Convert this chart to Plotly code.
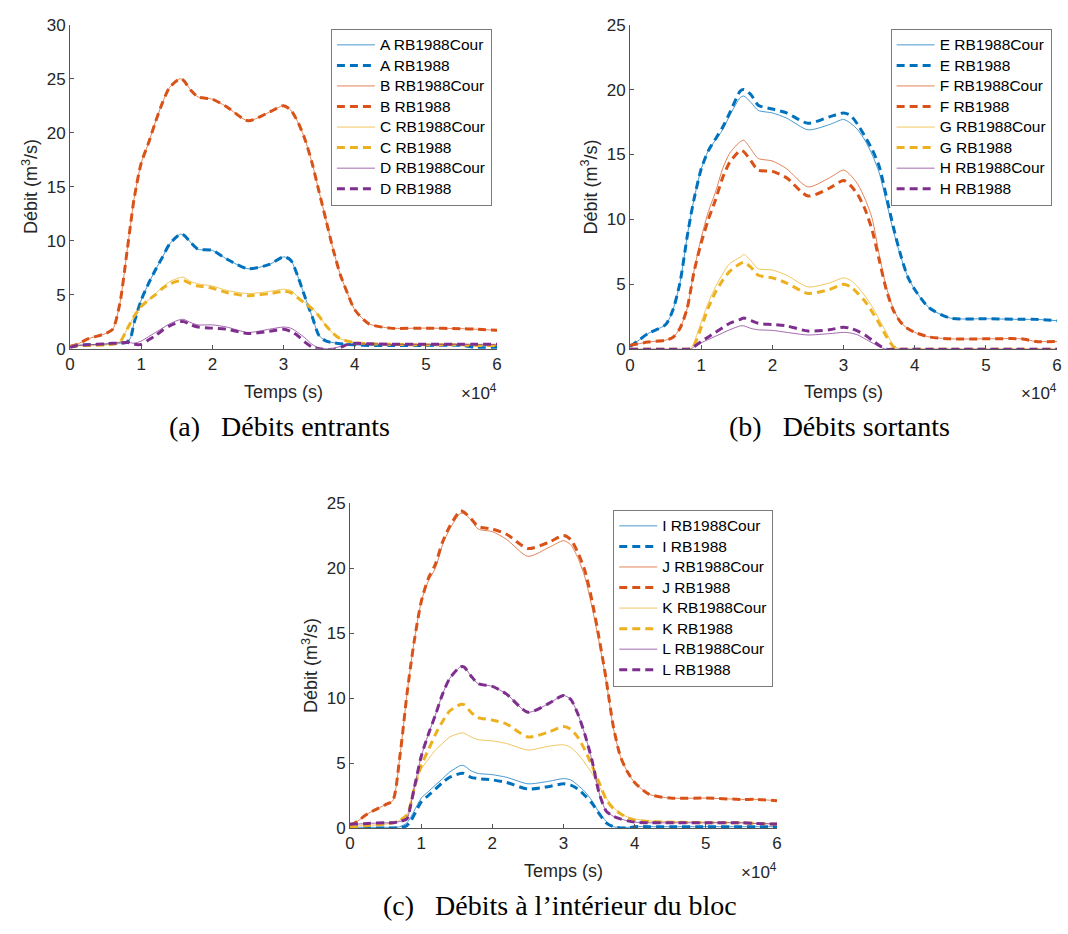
import plotly.graph_objects as go

# ---------------- data ----------------
T = [0, 1000, 2500, 5000, 6000, 7000, 8000, 8500, 9000, 10000, 11000, 12000, 13000, 14000,
     15500, 16000, 17000, 18000, 20000, 22000, 25000, 28000, 30000, 31000, 32000, 33000,
     34000, 35000, 36000, 37000, 38000, 39000, 40000, 42000, 45000, 50000, 55000, 57000, 60000]

# (a) Débits entrants
A_cour = [0.3, 0.3, 0.35, 0.4, 0.45, 0.5, 0.6, 1.0, 2.4, 4.5, 6.0, 7.3, 8.5, 9.7,
          10.6, 10.5, 9.8, 9.2, 9.1, 8.3, 7.4, 7.8, 8.5, 8.2, 6.7, 4.8,
          3.0, 1.2, 0.7, 0.55, 0.45, 0.4, 0.35, 0.3, 0.3, 0.3, 0.3, 0.3, 0.3]
A_1988 = [0.2, 0.3, 0.35, 0.4, 0.45, 0.5, 0.6, 1.0, 2.4, 4.5, 6.0, 7.3, 8.5, 9.7,
          10.6, 10.5, 9.8, 9.2, 9.1, 8.3, 7.4, 7.8, 8.5, 8.2, 6.7, 4.8,
          3.0, 1.2, 0.7, 0.55, 0.45, 0.4, 0.35, 0.3, 0.3, 0.3, 0.3, 0.1, 0.1]
B_cour = [0.2, 0.4, 0.9, 1.4, 1.8, 4.2, 9.0, 11.5, 13.9, 17.2, 19.0, 21.0, 22.8, 24.2,
          25.0, 24.8, 23.9, 23.3, 23.1, 22.4, 21.1, 21.9, 22.5, 22.1, 21.0, 19.4,
          17.2, 14.5, 11.8, 9.1, 6.8, 5.1, 3.6, 2.3, 1.9, 1.9, 1.85, 1.8, 1.7]
B_1988 = [0.2, 0.4, 0.9, 1.4, 1.8, 4.2, 9.0, 11.5, 13.9, 17.2, 19.0, 21.0, 22.8, 24.2,
          25.0, 24.8, 23.9, 23.3, 23.1, 22.4, 21.1, 21.9, 22.5, 22.1, 21.0, 19.4,
          17.2, 14.5, 11.8, 9.1, 6.8, 5.1, 3.6, 2.3, 1.9, 1.9, 1.85, 1.8, 1.7]
C_cour = [0.2, 0.25, 0.3, 0.35, 0.4, 0.6, 1.8, 2.4, 3.0, 3.9, 4.5, 5.1, 5.7, 6.2,
          6.6, 6.6, 6.2, 6.0, 5.8, 5.4, 5.1, 5.3, 5.5, 5.4, 4.8, 4.3,
          3.8, 3.0, 2.1, 1.4, 0.9, 0.7, 0.55, 0.45, 0.4, 0.35, 0.35, 0.3, 0.3]
C_1988 = [0.2, 0.25, 0.3, 0.35, 0.4, 0.6, 1.8, 2.4, 3.0, 3.9, 4.5, 5.0, 5.6, 6.0,
          6.3, 6.3, 6.0, 5.8, 5.6, 5.2, 4.9, 5.1, 5.3, 5.2, 4.7, 4.2,
          3.7, 3.0, 2.1, 1.4, 0.9, 0.7, 0.55, 0.45, 0.4, 0.35, 0.35, 0.3, 0.3]
D_cour = [0.2, 0.3, 0.35, 0.45, 0.5, 0.6, 0.6, 0.55, 0.5, 0.7, 1.1, 1.5, 1.9, 2.3,
          2.7, 2.7, 2.4, 2.2, 2.2, 2.0, 1.5, 1.8, 2.0, 1.9, 1.5, 1.0,
          0.4, 0.05, 0.0, 0.05, 0.2, 0.35, 0.4, 0.45, 0.4, 0.4, 0.4, 0.4, 0.4]
D_1988 = [0.1, 0.3, 0.35, 0.45, 0.5, 0.5, 0.6, 0.5, 0.4, 0.4, 0.8, 1.2, 1.7, 2.1,
          2.5, 2.5, 2.2, 2.0, 1.9, 1.8, 1.4, 1.6, 1.8, 1.6, 1.2, 0.6,
          0.15, 0.0, -0.1, -0.1, 0.1, 0.4, 0.5, 0.45, 0.4, 0.4, 0.4, 0.4, 0.4]

# (b) Débits sortants
E_cour = [0.2, 0.6, 1.2, 1.9, 3.0, 5.1, 8.6, 10.2, 11.6, 13.9, 15.3, 16.1, 16.9, 18.0,
          19.4, 19.5, 19.0, 18.4, 18.2, 17.8, 16.9, 17.3, 17.7, 17.4, 16.9, 16.1,
          15.0, 13.6, 11.4, 9.1, 7.2, 5.6, 4.6, 3.2, 2.4, 2.35, 2.3, 2.3, 2.2]
E_1988 = [0.2, 0.6, 1.2, 1.9, 3.0, 5.1, 8.6, 10.2, 11.6, 13.9, 15.3, 16.2, 17.1, 18.2,
          19.9, 20.0, 19.6, 18.8, 18.5, 18.2, 17.4, 17.9, 18.2, 18.0, 17.3, 16.4,
          15.4, 14.1, 11.8, 9.4, 7.3, 5.6, 4.6, 3.2, 2.4, 2.35, 2.3, 2.3, 2.2]
F_cour = [0.3, 0.4, 0.55, 0.7, 0.9, 1.6, 3.1, 4.5, 6.1, 8.6, 10.6, 12.1, 13.9, 15.1,
          16.0, 16.1, 15.4, 14.7, 14.5, 13.9, 12.5, 13.2, 13.8, 13.4, 12.7, 11.6,
          10.1, 7.3, 4.8, 3.1, 2.1, 1.6, 1.3, 0.95, 0.8, 0.8, 0.8, 0.6, 0.6]
F_1988 = [0.3, 0.4, 0.55, 0.7, 0.9, 1.6, 3.1, 4.5, 6.0, 8.2, 10.0, 11.5, 13.2, 14.4,
          15.3, 15.2, 14.5, 13.8, 13.7, 13.2, 11.8, 12.4, 13.0, 12.6, 11.9, 10.8,
          9.2, 6.9, 4.6, 3.0, 2.1, 1.6, 1.3, 0.95, 0.8, 0.8, 0.8, 0.6, 0.6]
G_cour = [0.0, 0.0, 0.0, 0.0, 0.0, 0.0, 0.0, 0.05, 0.55, 2.1, 3.6, 4.8, 5.8, 6.6,
          7.1, 7.3, 6.8, 6.2, 6.1, 5.7, 4.8, 5.1, 5.5, 5.3, 4.8, 4.1,
          3.3, 2.3, 1.3, 0.3, 0.0, 0.0, 0.0, 0.0, 0.0, 0.0, 0.0, 0.0, 0.0]
G_1988 = [0.0, 0.0, 0.0, 0.0, 0.0, 0.0, 0.0, 0.05, 0.3, 1.7, 3.2, 4.4, 5.3, 6.0,
          6.6, 6.7, 6.3, 5.7, 5.5, 5.1, 4.3, 4.6, 5.0, 4.8, 4.3, 3.7,
          2.9, 2.0, 1.0, 0.2, 0.0, 0.0, 0.0, 0.0, 0.0, 0.0, 0.0, 0.0, 0.0]
H_cour = [0.0, 0.0, 0.0, 0.0, 0.0, 0.0, 0.0, 0.0, 0.2, 0.5, 0.75, 1.0, 1.25, 1.5,
          1.8, 1.8, 1.6, 1.5, 1.45, 1.3, 1.1, 1.2, 1.3, 1.25, 1.1, 0.8,
          0.5, 0.2, 0.0, 0.0, 0.0, 0.0, 0.0, 0.0, 0.0, 0.0, 0.0, 0.0, 0.0]
H_1988 = [0.0, 0.0, 0.0, 0.0, 0.0, 0.0, 0.0, 0.0, 0.2, 0.6, 0.95, 1.3, 1.65, 2.0,
          2.3, 2.4, 2.2, 2.0, 1.9, 1.8, 1.4, 1.5, 1.7, 1.6, 1.4, 1.1,
          0.7, 0.3, 0.0, 0.0, 0.0, 0.0, 0.0, 0.0, 0.0, 0.0, 0.0, 0.0, 0.0]

# (c) Débits à l'intérieur du bloc
I_cour = [0.05, 0.05, 0.05, 0.05, 0.05, 0.1, 0.4, 0.8, 1.3, 2.3, 2.8, 3.3, 3.8, 4.3,
          4.8, 4.8, 4.4, 4.2, 4.1, 3.9, 3.4, 3.6, 3.8, 3.7, 3.3, 2.8,
          2.1, 1.2, 0.5, 0.1, 0.05, 0.05, 0.1, 0.1, 0.1, 0.1, 0.1, 0.1, 0.1]
I_1988 = [0.0, 0.0, 0.0, 0.0, 0.0, 0.0, 0.2, 0.5, 1.0, 2.0, 2.5, 3.0, 3.5, 3.9,
          4.2, 4.2, 3.9, 3.8, 3.7, 3.5, 3.0, 3.2, 3.4, 3.3, 3.0, 2.5,
          1.9, 1.1, 0.4, 0.1, 0.0, 0.0, 0.1, 0.1, 0.1, 0.1, 0.1, 0.1, 0.1]
J_cour = [0.2, 0.5, 1.1, 1.8, 2.1, 5.5, 10.3, 12.4, 14.3, 17.4, 19.0, 20.0, 21.8, 23.0,
          24.2, 24.2, 23.7, 23.0, 22.8, 22.2, 20.9, 21.6, 22.1, 21.8, 20.8, 19.3,
          17.0, 14.3, 11.3, 7.7, 5.5, 4.3, 3.5, 2.6, 2.3, 2.3, 2.2, 2.2, 2.1]
J_1988 = [0.2, 0.5, 1.1, 1.8, 2.1, 5.5, 10.3, 12.4, 14.3, 17.4, 19.2, 20.3, 22.0, 23.2,
          24.4, 24.3, 23.8, 23.2, 23.0, 22.6, 21.5, 22.0, 22.5, 22.2, 21.2, 19.8,
          17.5, 14.6, 11.4, 7.8, 5.5, 4.3, 3.5, 2.6, 2.3, 2.3, 2.2, 2.2, 2.1]
K_cour = [0.1, 0.15, 0.2, 0.3, 0.4, 0.6, 1.0, 2.0, 3.2, 4.5, 5.3, 6.0, 6.5, 7.0,
          7.3, 7.3, 7.0, 6.8, 6.7, 6.5, 6.0, 6.3, 6.4, 6.2, 5.7, 5.0,
          4.2, 3.2, 2.3, 1.6, 1.1, 0.85, 0.7, 0.55, 0.5, 0.45, 0.4, 0.35, 0.35]
K_1988 = [0.05, 0.1, 0.2, 0.3, 0.4, 0.6, 1.0, 1.8, 3.0, 4.8, 6.0, 7.2, 8.2, 9.0,
          9.5, 9.5, 8.9, 8.5, 8.3, 8.0, 7.0, 7.4, 7.8, 7.6, 7.0, 6.0,
          4.8, 3.5, 2.2, 1.5, 1.1, 0.8, 0.6, 0.5, 0.45, 0.4, 0.4, 0.35, 0.3]
L_cour = [0.3, 0.3, 0.35, 0.4, 0.4, 0.5, 0.7, 1.7, 3.0, 5.5, 7.2, 8.7, 10.3, 11.5,
          12.4, 12.4, 11.7, 11.1, 10.9, 10.3, 8.9, 9.6, 10.2, 9.9, 8.8, 7.2,
          5.2, 2.7, 1.3, 0.9, 0.7, 0.55, 0.45, 0.4, 0.4, 0.4, 0.4, 0.35, 0.3]
L_1988 = [0.3, 0.3, 0.35, 0.4, 0.4, 0.5, 0.7, 1.7, 3.0, 5.5, 7.2, 8.7, 10.3, 11.5,
          12.4, 12.4, 11.7, 11.1, 10.9, 10.3, 8.9, 9.6, 10.2, 9.9, 8.8, 7.2,
          5.2, 2.7, 1.3, 0.9, 0.7, 0.55, 0.45, 0.4, 0.4, 0.4, 0.4, 0.35, 0.3]

x_tick_vals = [0, 10000, 20000, 30000, 40000, 50000, 60000]
x_tick_text = ["0", "1", "2", "3", "4", "5", "6"]
y_ticks_a = [0, 5, 10, 15, 20, 25, 30]
y_ticks_bc = [0, 5, 10, 15, 20, 25]

panels = [
    ("a", [("A", A_cour, A_1988), ("B", B_cour, B_1988), ("C", C_cour, C_1988), ("D", D_cour, D_1988)]),
    ("b", [("E", E_cour, E_1988), ("F", F_cour, F_1988), ("G", G_cour, G_1988), ("H", H_cour, H_1988)]),
    ("c", [("I", I_cour, I_1988), ("J", J_cour, J_1988), ("K", K_cour, K_1988), ("L", L_cour, L_1988)]),
]
captions = ["(a)\u00a0\u00a0 Débits entrants", "(b)\u00a0\u00a0 Débits sortants",
            "(c)\u00a0\u00a0 Débits à l\u2019intérieur du bloc"]

COLORS = ["#0072BD", "#D95319", "#EDB120", "#7E2F8E"]

# ---------------- layout geometry (pixels) ----------------
W, H = 1068, 934
boxes = {  # x0, x1, ytop, ybottom
    "a": (65.7, 496.7, 16.0, 346.7),
    "b": (631.0, 1062.0, 16.0, 347.3),
    "c": (348.3, 779.3, 504.3, 836.0),
}
legend_pos = {"a": (329, 20), "b": (894, 20), "c": (614, 511)}

def px(x):
    return x / W

def py(y):
    return 1 - y / H

def leg_name(s):
    return f'<span style="font-size:15.5px">{s}</span>'

fig = go.Figure()
axis_ids = {"a": ("x", "y", "legend"), "b": ("x2", "y2", "legend2"), "c": ("x3", "y3", "legend3")}

for key, series in panels:
    xa, ya, lg = axis_ids[key]
    for (name, cour, r88), col in zip(series, COLORS):
        fig.add_trace(go.Scatter(
            x=T, y=cour, mode="lines", name=leg_name(f"{name} RB1988Cour"),
            line=dict(color=col, width=0.9, shape="spline", smoothing=0.7),
            opacity=0.8, xaxis=xa, yaxis=ya, legend=lg))
        fig.add_trace(go.Scatter(
            x=T, y=r88, mode="lines", name=leg_name(f"{name} RB1988"),
            line=dict(color=col, width=3, dash="8px,5px", shape="spline", smoothing=0.7),
            xaxis=xa, yaxis=ya, legend=lg))

AX_COL = "#555555"
TXT_COL = "#262626"
SANS = "Liberation Sans, Arial, Helvetica, sans-serif"
SERIF = "Liberation Serif, Times New Roman, serif"

layout = dict(
    width=W, height=H, margin=dict(l=0, r=0, t=0, b=0),
    paper_bgcolor="white", plot_bgcolor="white",
    font=dict(family=SANS, color=TXT_COL, size=17),
)
annotations = []
for i, (key, _) in enumerate(panels):
    x0, x1, yt, yb = boxes[key]
    suffix = "" if i == 0 else str(i + 1)
    yticks = y_ticks_a if key == "a" else y_ticks_bc
    layout["xaxis" + suffix] = dict(
        domain=[px(x0), px(x1)], range=[0, 60000], anchor="y" + suffix,
        tickvals=x_tick_vals, ticktext=x_tick_text, ticks="inside", ticklen=4,
        tickcolor=AX_COL, showline=True, linecolor=AX_COL, linewidth=1,
        showgrid=False, zeroline=False, tickfont=dict(size=17, color=TXT_COL))
    layout["yaxis" + suffix] = dict(
        domain=[py(yb), py(yt)], range=[0, yticks[-1]], anchor="x" + suffix,
        tickvals=yticks, ticks="inside", ticklen=4,
        tickcolor=AX_COL, showline=True, linecolor=AX_COL, linewidth=1,
        showgrid=False, zeroline=False, tickfont=dict(size=17, color=TXT_COL))
    lx, ly = legend_pos[key]
    layout["legend" + suffix] = dict(
        x=px(lx), y=py(ly), xanchor="left", yanchor="top",
        bgcolor="white", bordercolor="#7a7a7a", borderwidth=1,
        font=dict(family=SANS, size=13.5, color="#000000"),
        itemwidth=38, tracegroupgap=0, traceorder="normal")
    xc = (x0 + x1) / 2
    yc = (yt + yb) / 2
    annotations.append(dict(text="Temps (s)", x=px(xc), y=py(yb + 44), xref="paper", yref="paper",
                            showarrow=False, xanchor="center", yanchor="middle",
                            font=dict(family=SANS, size=18, color=TXT_COL)))
    annotations.append(dict(text="Débit (m<sup>3</sup>/s)", x=px(x0 - 40), y=py(yc), xref="paper", yref="paper",
                            showarrow=False, xanchor="center", yanchor="middle", textangle=-90,
                            font=dict(family=SANS, size=18, color=TXT_COL)))
    annotations.append(dict(text="\u00d710<sup>4</sup>", x=px(x1 + 2), y=py(yb + 44), xref="paper", yref="paper",
                            showarrow=False, xanchor="right", yanchor="middle",
                            font=dict(family=SANS, size=17, color=TXT_COL)))
    annotations.append(dict(text=captions[i], x=px(xc - 4), y=py(yb + 79), xref="paper", yref="paper",
                            showarrow=False, xanchor="center", yanchor="middle",
                            font=dict(family=SERIF, size=28, color="#000000")))
layout["annotations"] = annotations
layout["showlegend"] = True
fig.update_layout(**layout)

fig.write_html("out.html", config={"displayModeBar": False},
               post_script="document.body.style.margin='0';document.body.style.overflow='hidden';")
